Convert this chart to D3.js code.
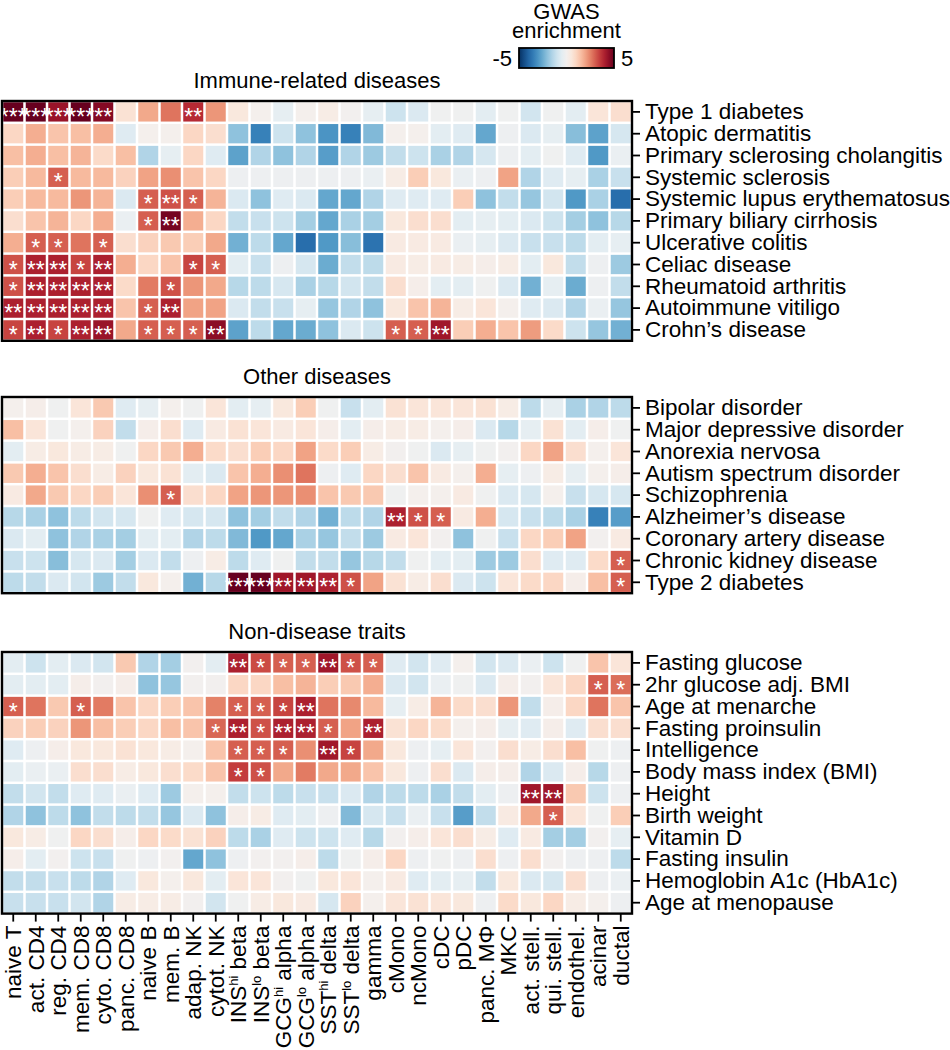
<!DOCTYPE html>
<html>
<head>
<meta charset="utf-8">
<script src="https://cdn.jsdelivr.net/npm/d3@7"></script>
<style>
body { margin: 0; background: #fff; }
text { font-family: "Liberation Sans", Arial, Helvetica, sans-serif; fill: #000; }
</style>
</head>
<body>
<div id="chart"></div>
<script>
// cell types (columns), ^ marks a superscript
var cellTypes = ["naive T", "act. CD4", "reg. CD4", "mem. CD8", "cyto. CD8", "panc. CD8",
  "naive B", "mem. B", "adap. NK", "cytot. NK", "INS^hi beta", "INS^lo beta",
  "GCG^hi alpha", "GCG^lo alpha", "SST^hi delta", "SST^lo delta", "gamma", "cMono",
  "ncMono", "cDC", "pDC", "panc. MΦ", "MKC", "act. stell.", "qui. stell.",
  "endothel.", "acinar", "ductal"];

// ---- Immune-related diseases ----
var immuneTraits = ["Type 1 diabetes", "Atopic dermatitis", "Primary sclerosing cholangitis",
  "Systemic sclerosis", "Systemic lupus erythematosus", "Primary biliary cirrhosis",
  "Ulcerative colitis", "Celiac disease", "Rheumatoid arthritis", "Autoimmune vitiligo",
  "Crohn’s disease"];
var immuneValues = [
  [5.0, 5.0, 4.3, 5.0, 4.6, 0.7, 1.9, 2.7, 3.8, 2.2, 0.5, 0.1, -0.4, 0.1, 0.3, 0.0, -0.4, -1.0, -0.7, -0.1, -0.1, -0.5, -0.1, -0.9, -0.1, -0.5, 0.6, 0.8],
  [1.0, 1.8, 1.4, 1.5, 1.8, -0.6, 0.1, 0.1, 1.0, 0.8, -2.0, -3.4, -1.0, -2.0, -3.0, -3.4, -2.2, 0.1, 0.1, -0.5, -0.6, -2.6, -0.2, -0.7, -0.4, -2.1, -2.7, -0.8],
  [1.5, 1.8, 1.5, 1.7, 0.9, 1.5, -1.5, -0.4, 1.0, -0.6, -2.7, -1.5, -2.0, -1.5, -2.8, -1.5, -1.8, -1.2, -1.0, -1.6, -1.5, -0.8, -0.2, -0.5, -0.1, -0.6, -2.9, -0.3],
  [1.2, 1.6, 3.0, 1.6, 1.6, 1.1, 2.0, 2.3, 1.4, 1.0, -0.2, -0.2, -0.2, -0.2, -0.2, -0.2, -0.3, 0.3, 1.2, 0.5, -0.3, -0.2, 2.0, -1.5, -0.6, -0.4, -1.6, -1.1],
  [1.2, 1.6, 1.6, 2.2, 1.7, -0.7, 3.0, 3.2, 3.0, 1.7, -0.7, -2.0, -0.6, -0.7, -2.6, -2.6, -1.5, -0.6, -0.6, -0.6, 1.2, -2.0, -1.2, -1.9, -0.9, -2.9, -1.6, -3.8],
  [0.8, 1.4, 1.7, 1.0, 1.8, -0.3, 3.0, 4.8, 1.8, 1.0, -1.2, -1.1, -1.0, -1.7, -2.6, -1.6, -1.7, 0.5, 0.8, 0.8, -0.5, -0.4, -0.5, -0.7, -1.0, -1.7, -2.0, -1.4],
  [1.8, 3.0, 3.0, 2.7, 3.0, 0.8, 1.1, 1.3, 1.2, 1.9, -2.4, -1.3, -2.6, -3.8, -2.9, -2.1, -3.7, 0.4, 0.4, 0.4, -0.3, -0.4, -0.7, -1.1, -1.1, -1.3, -0.5, -0.4],
  [3.2, 4.0, 4.0, 3.4, 4.0, 1.8, 1.0, 1.4, 3.4, 3.0, -0.5, -1.1, -0.2, -0.8, -2.5, -1.2, -1.3, 0.4, 0.3, 0.4, 0.3, 0.2, 0.3, -0.5, 0.5, -1.2, -0.2, -1.8],
  [3.2, 4.0, 4.0, 4.0, 4.0, 0.9, 2.6, 3.2, 2.2, 1.9, -1.4, -1.3, -0.8, -1.6, -1.4, -0.9, -1.2, 0.8, 0.2, -0.5, -0.5, -0.1, -0.7, -2.4, -0.4, -2.5, -0.2, -1.2],
  [4.0, 4.0, 4.0, 4.0, 4.0, 1.4, 3.0, 4.0, 2.0, 2.0, -0.7, -1.2, -1.1, -0.4, -1.9, -1.5, -2.0, 0.5, 1.4, 1.7, 0.3, 0.6, 0.1, -0.6, -0.7, -1.5, -0.3, -1.9],
  [3.4, 4.0, 3.4, 4.0, 4.3, 1.9, 3.0, 3.0, 3.0, 4.5, -2.7, -1.3, -2.6, -2.5, -2.0, -0.7, -1.0, 3.0, 3.0, 4.2, 1.2, 1.8, 1.4, 2.1, 0.9, -1.0, -1.9, -2.4]
];
var immuneStars = [
  ["Type 1 diabetes", "naive T", "***"], ["Type 1 diabetes", "act. CD4", "***"],
  ["Type 1 diabetes", "reg. CD4", "***"], ["Type 1 diabetes", "mem. CD8", "***"],
  ["Type 1 diabetes", "cyto. CD8", "**"], ["Type 1 diabetes", "adap. NK", "**"],
  ["Systemic sclerosis", "reg. CD4", "*"],
  ["Systemic lupus erythematosus", "naive B", "*"], ["Systemic lupus erythematosus", "mem. B", "**"],
  ["Systemic lupus erythematosus", "adap. NK", "*"],
  ["Primary biliary cirrhosis", "naive B", "*"], ["Primary biliary cirrhosis", "mem. B", "**"],
  ["Ulcerative colitis", "act. CD4", "*"], ["Ulcerative colitis", "reg. CD4", "*"],
  ["Ulcerative colitis", "cyto. CD8", "*"],
  ["Celiac disease", "naive T", "*"], ["Celiac disease", "act. CD4", "**"],
  ["Celiac disease", "reg. CD4", "**"], ["Celiac disease", "mem. CD8", "*"],
  ["Celiac disease", "cyto. CD8", "**"], ["Celiac disease", "adap. NK", "*"],
  ["Celiac disease", "cytot. NK", "*"],
  ["Rheumatoid arthritis", "naive T", "*"], ["Rheumatoid arthritis", "act. CD4", "**"],
  ["Rheumatoid arthritis", "reg. CD4", "**"], ["Rheumatoid arthritis", "mem. CD8", "**"],
  ["Rheumatoid arthritis", "cyto. CD8", "**"], ["Rheumatoid arthritis", "mem. B", "*"],
  ["Autoimmune vitiligo", "naive T", "**"], ["Autoimmune vitiligo", "act. CD4", "**"],
  ["Autoimmune vitiligo", "reg. CD4", "**"], ["Autoimmune vitiligo", "mem. CD8", "**"],
  ["Autoimmune vitiligo", "cyto. CD8", "**"], ["Autoimmune vitiligo", "naive B", "*"],
  ["Autoimmune vitiligo", "mem. B", "**"],
  ["Crohn’s disease", "naive T", "*"], ["Crohn’s disease", "act. CD4", "**"],
  ["Crohn’s disease", "reg. CD4", "*"], ["Crohn’s disease", "mem. CD8", "**"],
  ["Crohn’s disease", "cyto. CD8", "**"], ["Crohn’s disease", "naive B", "*"],
  ["Crohn’s disease", "mem. B", "*"], ["Crohn’s disease", "adap. NK", "*"],
  ["Crohn’s disease", "cytot. NK", "**"], ["Crohn’s disease", "cMono", "*"],
  ["Crohn’s disease", "ncMono", "*"], ["Crohn’s disease", "cDC", "**"]
];

// ---- Other diseases ----
var otherTraits = ["Bipolar disorder", "Major depressive disorder", "Anorexia nervosa",
  "Autism spectrum disorder", "Schizophrenia", "Alzheimer’s disease",
  "Coronary artery disease", "Chronic kidney disease", "Type 2 diabetes"];
var otherValues = [
  [0.1, 0.2, -0.1, 0.6, 1.3, -0.6, -0.4, 0.1, -0.1, 0.6, -0.5, -0.4, 0.5, 1.2, -0.1, -1.1, -0.5, 0.7, 0.6, 0.6, 0.6, 0.7, 0.3, -1.3, -0.4, -1.6, -1.5, -1.3],
  [1.5, 0.6, -0.1, 0.1, 1.1, -1.2, 0.2, 0.8, -0.6, 0.4, 0.7, 0.6, 0.4, 0.6, 0.2, -0.5, 0.2, 0.3, 0.3, 0.1, 0.2, -0.7, -1.4, -0.4, 0.7, -0.5, 0.2, -0.1],
  [-0.5, 0.3, 0.5, 0.3, 0.3, -0.1, 1.0, 1.3, 1.8, 0.9, 0.8, 1.2, 1.0, 2.0, 0.9, 1.2, 0.3, 0.0, -0.1, -0.7, -0.4, -0.1, 0.0, 1.0, 2.0, 0.8, 0.1, 0.6],
  [1.3, 1.8, 1.4, 0.8, 0.3, 1.1, 0.5, 0.7, -0.5, -0.7, 1.4, 1.8, 2.3, 2.7, -0.2, -0.6, 1.0, 0.8, 1.4, 0.4, 0.1, 1.8, -0.4, -0.2, 0.3, -0.4, 0.1, 0.2],
  [0.4, 1.9, 1.3, 1.0, 1.2, 0.6, 2.3, 3.0, 0.8, 1.0, 2.0, 2.2, 2.2, 2.3, 1.4, 1.3, 1.3, -0.1, 0.1, 0.1, 0.4, -0.1, -0.7, -0.8, 0.1, -1.1, -0.8, -0.8],
  [-1.4, -1.6, -2.0, -1.3, -0.9, -0.8, -0.1, -0.6, -0.8, -0.8, -2.0, -1.7, -1.2, -1.5, -2.4, -1.3, -1.5, 4.0, 3.2, 3.0, 0.4, 1.8, -0.8, -1.1, -1.3, -1.6, -3.4, -2.8],
  [-0.7, -0.5, -2.0, -1.5, -1.6, -1.7, -0.5, -0.5, -1.5, -1.3, -2.2, -2.9, -2.6, -1.6, -1.9, -1.2, -1.8, 0.4, 0.6, 0.0, -2.0, -0.1, -1.1, 1.0, 1.2, 2.0, 0.0, 0.4],
  [-1.1, -1.0, -2.1, -0.8, -0.7, -1.7, -0.7, -1.2, -0.2, 0.3, -1.3, -0.6, -0.1, -1.2, -1.2, -1.9, -1.4, -1.2, -0.1, -0.5, -0.5, -1.8, -1.8, 0.8, -0.6, -0.6, 0.9, 3.0],
  [-1.3, -1.2, -0.7, -0.9, -1.8, -1.2, 0.5, 0.1, -2.4, -1.4, 5.0, 5.0, 4.2, 4.2, 4.0, 3.2, 2.0, 0.7, 0.3, 0.8, -0.7, -1.0, 0.6, 0.9, 1.0, 0.2, 1.5, 3.0]
];
var otherStars = [
  ["Schizophrenia", "mem. B", "*"],
  ["Alzheimer’s disease", "cMono", "**"], ["Alzheimer’s disease", "ncMono", "*"],
  ["Alzheimer’s disease", "cDC", "*"],
  ["Chronic kidney disease", "ductal", "*"],
  ["Type 2 diabetes", "INS^hi beta", "***"], ["Type 2 diabetes", "INS^lo beta", "***"],
  ["Type 2 diabetes", "GCG^hi alpha", "**"], ["Type 2 diabetes", "GCG^lo alpha", "**"],
  ["Type 2 diabetes", "SST^hi delta", "**"], ["Type 2 diabetes", "SST^lo delta", "*"],
  ["Type 2 diabetes", "ductal", "*"]
];

// ---- Non-disease traits ----
var traitNames = ["Fasting glucose", "2hr glucose adj. BMI", "Age at menarche",
  "Fasting proinsulin", "Intelligence", "Body mass index (BMI)", "Height", "Birth weight",
  "Vitamin D", "Fasting insulin", "Hemoglobin A1c (HbA1c)", "Age at menopause"];
var traitValues = [
  [-0.5, -1.0, -0.5, -0.7, -0.9, 1.3, -1.5, -1.7, 0.0, -0.5, 4.0, 3.3, 3.0, 3.0, 4.2, 3.2, 3.0, -0.6, -0.9, -0.6, 0.1, -0.9, -0.7, -0.3, -1.0, -0.1, 1.4, 0.6],
  [-0.5, -0.5, -0.5, 0.2, 0.0, 0.2, -2.0, -1.9, 0.0, 0.0, 1.0, 1.0, 1.5, 1.7, 1.2, 1.3, 1.8, -0.7, -0.9, -0.3, -0.1, -0.7, 0.2, 0.0, 0.6, 1.0, 3.0, 2.8],
  [3.0, 2.7, 1.3, 3.0, 2.6, 1.4, 1.0, 1.2, 1.4, 2.5, 3.0, 3.0, 3.4, 4.0, 2.7, 2.4, 1.6, -0.4, 0.3, 1.7, 0.9, 0.8, 2.2, -1.2, 0.2, 1.0, 2.7, 1.4],
  [1.1, 1.2, 1.1, 2.2, 1.5, 1.2, 1.0, 1.5, 1.4, 2.9, 4.0, 3.2, 4.0, 4.0, 3.0, 2.0, 4.0, 0.7, 1.0, 0.9, 0.1, 0.2, -0.4, -0.6, 0.2, -0.6, 0.8, 0.8],
  [-0.6, -0.2, 0.2, 0.5, 0.5, 0.7, 0.5, 0.3, 0.1, 1.4, 3.0, 3.0, 3.0, 2.3, 4.2, 3.4, 1.9, 0.5, -0.2, -0.4, 0.6, 0.0, 0.8, 0.3, 0.8, 1.5, -0.1, -0.2],
  [-0.5, -0.3, -0.3, 0.8, 0.8, 0.3, 0.5, 0.8, 0.9, 1.4, 3.5, 3.2, 1.9, 2.6, 1.9, 1.9, 1.4, 0.5, -0.2, 0.8, -0.7, 0.2, 0.2, -1.5, -0.7, 0.2, -1.4, -0.2],
  [-1.2, -0.9, -1.2, -0.6, -0.6, -0.3, -0.6, -1.8, 0.1, 0.1, -1.2, -1.0, -1.3, -1.1, -1.1, -0.7, -1.5, -1.3, -1.3, -1.6, -1.2, -0.5, -0.2, 4.2, 4.2, 1.3, -1.0, -0.2],
  [-1.5, -2.0, -1.3, -2.0, -1.2, -1.3, -1.2, -1.9, -0.7, -2.0, 0.2, 0.3, -0.6, -0.5, -0.2, -2.2, -0.8, -1.1, -0.3, -1.1, -2.8, -1.2, 0.4, 1.9, 3.0, 0.6, -0.1, 1.2],
  [0.5, 0.3, -0.1, 1.0, 0.8, 0.2, 1.0, 0.9, 0.7, 1.1, -1.3, -1.6, -0.6, -1.0, -1.0, -0.6, -1.4, 0.0, 0.2, 0.6, 0.8, 0.3, -0.6, 0.4, -1.7, -1.7, 0.0, -0.4],
  [0.2, -0.5, 0.0, -1.0, -1.1, -0.1, -0.2, 0.0, -2.6, -2.0, -0.2, 0.0, 0.0, 0.2, -1.3, -0.1, 0.2, 1.0, -0.2, -0.1, -0.2, 0.8, -0.2, 0.8, 0.0, -0.2, -0.2, -1.3],
  [-1.2, -1.2, -1.1, -1.3, -1.5, -0.6, 0.5, 0.1, 0.5, -0.5, 0.6, 0.6, 0.0, -0.1, 0.5, 0.6, 0.1, 0.4, -0.6, -0.5, -0.4, -1.2, 0.5, -0.7, -0.8, 0.8, -0.2, -0.3],
  [-1.1, -1.1, -1.1, -0.9, -1.5, 0.3, 0.3, 0.3, 0.0, -0.9, -0.1, 0.3, 0.5, 0.4, -0.8, 1.1, 0.1, 0.6, 0.7, 0.6, 0.5, -0.2, 0.9, 0.5, 1.0, 0.3, 0.1, -0.2]
];
var traitStars = [
  ["Fasting glucose", "INS^hi beta", "**"], ["Fasting glucose", "INS^lo beta", "*"],
  ["Fasting glucose", "GCG^hi alpha", "*"], ["Fasting glucose", "GCG^lo alpha", "*"],
  ["Fasting glucose", "SST^hi delta", "**"], ["Fasting glucose", "SST^lo delta", "*"],
  ["Fasting glucose", "gamma", "*"],
  ["2hr glucose adj. BMI", "acinar", "*"], ["2hr glucose adj. BMI", "ductal", "*"],
  ["Age at menarche", "naive T", "*"], ["Age at menarche", "mem. CD8", "*"],
  ["Age at menarche", "INS^hi beta", "*"], ["Age at menarche", "INS^lo beta", "*"],
  ["Age at menarche", "GCG^hi alpha", "*"], ["Age at menarche", "GCG^lo alpha", "**"],
  ["Fasting proinsulin", "cytot. NK", "*"], ["Fasting proinsulin", "INS^hi beta", "**"],
  ["Fasting proinsulin", "INS^lo beta", "*"], ["Fasting proinsulin", "GCG^hi alpha", "**"],
  ["Fasting proinsulin", "GCG^lo alpha", "**"], ["Fasting proinsulin", "SST^hi delta", "*"],
  ["Fasting proinsulin", "gamma", "**"],
  ["Intelligence", "INS^hi beta", "*"], ["Intelligence", "INS^lo beta", "*"],
  ["Intelligence", "GCG^hi alpha", "*"], ["Intelligence", "SST^hi delta", "**"],
  ["Intelligence", "SST^lo delta", "*"],
  ["Body mass index (BMI)", "INS^hi beta", "*"], ["Body mass index (BMI)", "INS^lo beta", "*"],
  ["Height", "act. stell.", "**"], ["Height", "qui. stell.", "**"],
  ["Birth weight", "qui. stell.", "*"]
];

var legendTicks = [-5, 5];

//------ layout -----------------
var width = 950, height = 1050;
var rowH = 21.8;

var panels = [
  { title: "Immune-related diseases", traits: immuneTraits, values: immuneValues, stars: immuneStars, top: 101 },
  { title: "Other diseases", traits: otherTraits, values: otherValues, stars: otherStars, top: 397 },
  { title: "Non-disease traits", traits: traitNames, values: traitValues, stars: traitStars, top: 652 }
];

var svg = d3.select("#chart")
  .append("svg")
  .attr("width", width)
  .attr("height", height)
  .style("background", "#fff");

var x = d3.scaleBand().domain(cellTypes).range([2, 632]);
var color = d3.scaleDiverging(d3.interpolateRdBu).domain([5, 0, -5]).clamp(true);
var gap = 1.25;

panels.forEach(function (p, pi) {
  var y = d3.scaleBand().domain(p.traits).range([p.top, p.top + p.traits.length * rowH]);
  var g = svg.append("g");

  // title
  g.append("text")
    .attr("x", (x.range()[0] + x.range()[1]) / 2)
    .attr("y", p.top - 13)
    .attr("text-anchor", "middle")
    .style("font-size", "22px")
    .text(p.title);

  // cells
  var cells = [];
  p.traits.forEach(function (t, i) {
    cellTypes.forEach(function (c, j) {
      cells.push({ trait: t, cell: c, value: p.values[i][j] });
    });
  });
  g.selectAll("rect.cell")
    .data(cells)
    .enter().append("rect")
    .attr("class", "cell")
    .attr("x", function (d) { return x(d.cell) + gap; })
    .attr("y", function (d) { return y(d.trait) + gap; })
    .attr("width", x.bandwidth() - 2 * gap)
    .attr("height", y.bandwidth() - 2 * gap)
    .attr("fill", function (d) { return color(d.value); });

  // significance stars
  g.selectAll("text.star")
    .data(p.stars)
    .enter().append("text")
    .attr("class", "star")
    .attr("x", function (d) { return x(d[1]) + x.bandwidth() / 2; })
    .attr("y", function (d) { return y(d[0]) + y.bandwidth() / 2 + 13; })
    .attr("text-anchor", "middle")
    .style("font-size", "23px")
    .style("fill", "#fff")
    .text(function (d) { return d[2]; });

  // frame
  g.append("rect")
    .attr("x", x.range()[0])
    .attr("y", y.range()[0])
    .attr("width", x.range()[1] - x.range()[0])
    .attr("height", y.range()[1] - y.range()[0])
    .attr("fill", "none")
    .attr("stroke", "#000")
    .attr("stroke-width", 2.4);

  // row labels
  var right = g.append("g")
    .attr("transform", "translate(" + x.range()[1] + ",0)")
    .call(d3.axisRight(y).tickSize(8).tickPadding(5));
  right.select(".domain").remove();
  right.selectAll(".tick line").attr("stroke-width", 1.8);
  right.selectAll(".tick text")
    .style("font-size", "22.5px")
    .attr("font-family", null);

  // column labels under the last panel
  if (pi === panels.length - 1) {
    var bottom = g.append("g")
      .attr("transform", "translate(0," + y.range()[1] + ")")
      .call(d3.axisBottom(x).tickSize(8));
    bottom.select(".domain").remove();
    bottom.selectAll(".tick line").attr("stroke-width", 1.8);
    bottom.selectAll(".tick text")
      .attr("font-family", null)
      .style("font-size", "22.5px")
      .attr("transform", "rotate(-90)")
      .attr("x", -12)
      .attr("y", 0)
      .attr("dy", "0.35em")
      .attr("text-anchor", "end")
      .each(function (d) {
        var m = d.match(/^(.*)\^(\w+)(.*)$/);
        if (!m) return;
        var t = d3.select(this).text("");
        t.append("tspan").text(m[1]);
        t.append("tspan").attr("dy", -8).style("font-size", "13px").text(m[2]);
        t.append("tspan").attr("dy", 8).text(m[3]);
      });
  }
});

// ---- colour legend ----
var lg = svg.append("g");
var lx = d3.scaleLinear().domain([-5, 5]).range([519, 614]);
var grad = svg.append("defs").append("linearGradient")
  .attr("id", "gwas-grad")
  .attr("x1", "0%").attr("x2", "100%").attr("y1", "0%").attr("y2", "0%");
grad.selectAll("stop")
  .data(d3.range(0, 1.0001, 0.05))
  .enter().append("stop")
  .attr("offset", function (d) { return (d * 100) + "%"; })
  .attr("stop-color", function (d) { return color(-5 + 10 * d); });

lg.append("rect")
  .attr("x", lx(-5)).attr("y", 48)
  .attr("width", lx(5) - lx(-5)).attr("height", 20)
  .attr("fill", "url(#gwas-grad)")
  .attr("stroke", "#000")
  .attr("stroke-width", 1.8);

lg.selectAll("text.lt")
  .data(legendTicks)
  .enter().append("text")
  .attr("class", "lt")
  .attr("x", function (d) { return d < 0 ? lx(d) - 7 : lx(d) + 7; })
  .attr("y", 65.5)
  .attr("text-anchor", function (d) { return d < 0 ? "end" : "start"; })
  .style("font-size", "22px")
  .text(function (d) { return d; });

lg.selectAll("text.ltitle")
  .data(["GWAS", "enrichment"])
  .enter().append("text")
  .attr("class", "ltitle")
  .attr("x", (lx(-5) + lx(5)) / 2)
  .attr("y", function (d, i) { return 18.5 + i * 19.5; })
  .attr("text-anchor", "middle")
  .style("font-size", "22px")
  .text(function (d) { return d; });
</script>
</body>
</html>
